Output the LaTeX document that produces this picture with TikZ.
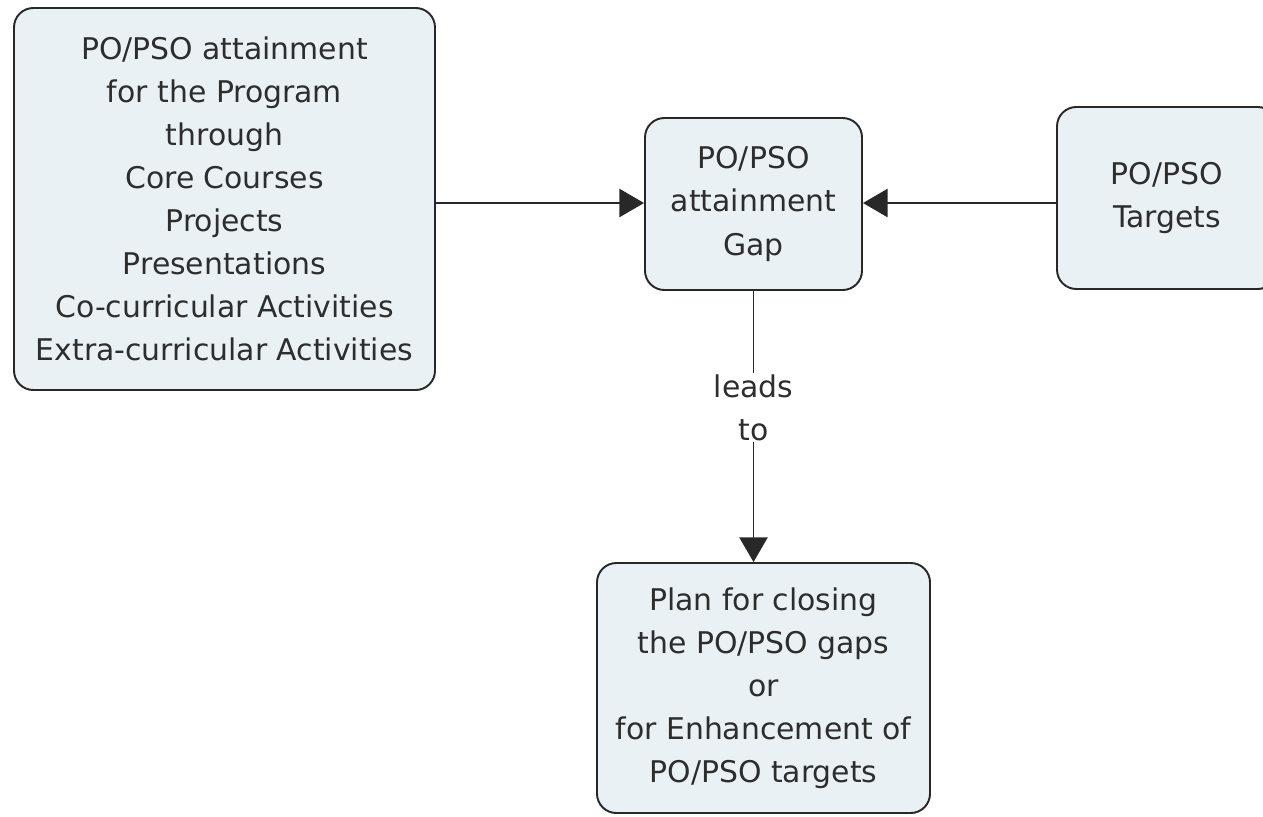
\documentclass[tikz,border=0pt]{standalone}
\usepackage{fontspec}
\setmainfont{DejaVu Sans}
\usepackage{tikz}
\usetikzlibrary{arrows.meta,positioning}
\definecolor{cmfill}{RGB}{234,241,245}
\definecolor{cmline}{RGB}{40,40,40}
\definecolor{cmtext}{RGB}{45,45,45}
\tikzstyle{arrow} = [line width=1.1pt,-{Triangle[length=14pt,width=16pt]},color=cmline]

\begin{document}
\begin{tikzpicture}[
    x=0.02cm, y=-0.02cm,
    every node/.style={font=\fontsize{17}{24.5}\selectfont, text=cmtext},
    box/.style={rectangle, rounded corners=11pt, draw=cmline, line width=1.1pt, fill=cmfill, align=center, inner sep=0pt},
    lbl/.style={fill=white, align=center, inner sep=1pt}
]
\useasboundingbox (0,0) rectangle (1263,816);

% Boxes
\node[box, minimum width=421*0.02cm, minimum height=382*0.02cm] (program) at (224.5,199) {PO/PSO attainment\\for the Program\\through\\Core Courses\\Projects\\Presentations\\Co-curricular Activities\\Extra-curricular Activities};
\node[box, minimum width=217*0.02cm, minimum height=172*0.02cm] (gap) at (753.5,204) {PO/PSO\\attainment\\Gap};
\node[box, minimum width=220*0.02cm, minimum height=182*0.02cm] (targets) at (1167,198) {PO/PSO\\Targets};
\node[box, minimum width=333*0.02cm, minimum height=250*0.02cm] (plan) at (763.5,688) {Plan for closing\\the PO/PSO gaps\\or\\for Enhancement of\\PO/PSO targets};

% Arrows
\draw[arrow] (program.east |- 0,203) -- (gap.west |- 0,203);
\draw[arrow] (targets.west |- 0,203) -- (gap.east |- 0,203);
\draw[arrow] (gap.south) -- node[lbl, pos=0.43] {leads\\to} (gap.south |- plan.north);

\end{tikzpicture}
\end{document}
